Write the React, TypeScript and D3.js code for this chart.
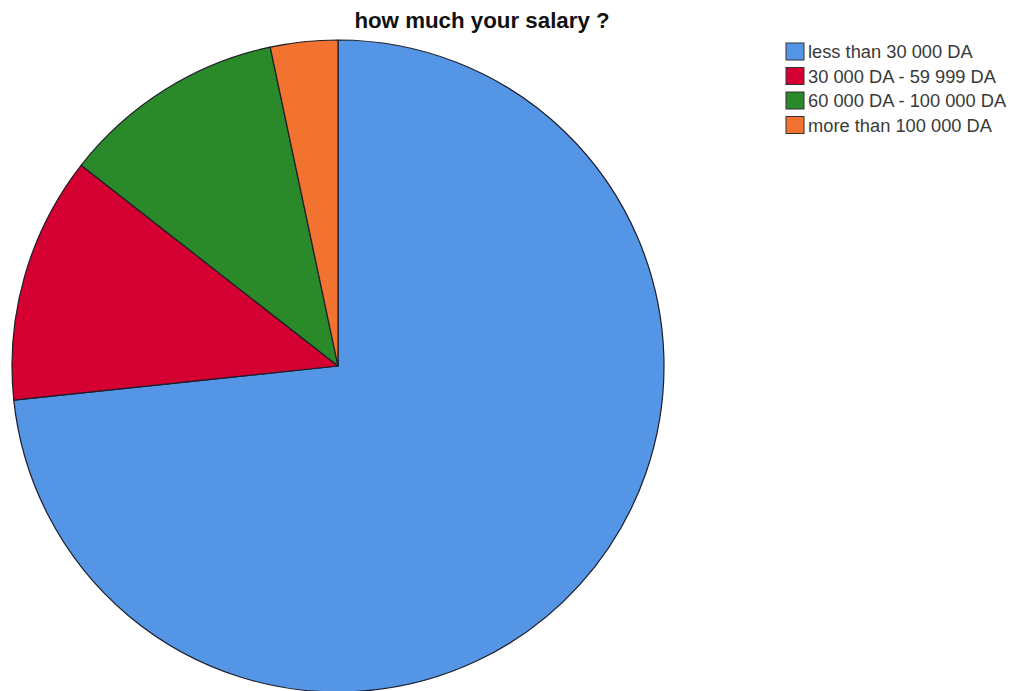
import React from "react";
import * as d3 from "d3";

const categories = ["less than 30 000 DA", "30 000 DA - 59 999 DA", "60 000 DA - 100 000 DA", "more than 100 000 DA"];
const counts = [66, 11, 10, 3];
const colors = ["#5495e6", "#d40032", "#2a8a2a", "#f2732f"];
const title = "how much your salary ?";

const W = 1014;
const H = 691;
const cx = 338;
const cy = 366;
const R = 326;

export default function App() {
  const data = categories.map((c, i) => ({ c, v: counts[i], col: colors[i] }));
  const pie = d3.pie<any>().value((d) => d.v).sort(null);
  const arc = d3.arc<any>().innerRadius(0).outerRadius(R);
  const arcs = pie(data);
  const legY = d3.scaleBand<string>().domain(categories).range([43, 141]);
  return (
    <svg width={W} height={H} style={{ position: "absolute", left: 0, top: 0, background: "#fff" }}>
      <rect width={W} height={H} fill="#fff" />
      <text x={482} y={28} textAnchor="middle" fontFamily="Liberation Sans, Arial, sans-serif" fontWeight="bold" fontSize={22.3} fill="#111">
        {title}
      </text>
      <g transform={`translate(${cx},${cy})`}>
        {arcs.map((a, i) => (
          <path key={i} d={arc(a) as string} fill={a.data.col} stroke="#1e1e2a" strokeWidth={1.2} strokeLinejoin="round" />
        ))}
      </g>
      <g>
        {categories.map((c, i) => (
          <g key={c} transform={`translate(786,${legY(c)})`}>
            <rect x={0} y={0} width={18} height={17} fill={colors[i]} stroke="#333" strokeWidth={1} />
            <text x={22} y={15} fontFamily="Liberation Sans, Arial, sans-serif" fontSize={18.3} fill="#3a3a3a">
              {c}
            </text>
          </g>
        ))}
      </g>
    </svg>
  );
}
